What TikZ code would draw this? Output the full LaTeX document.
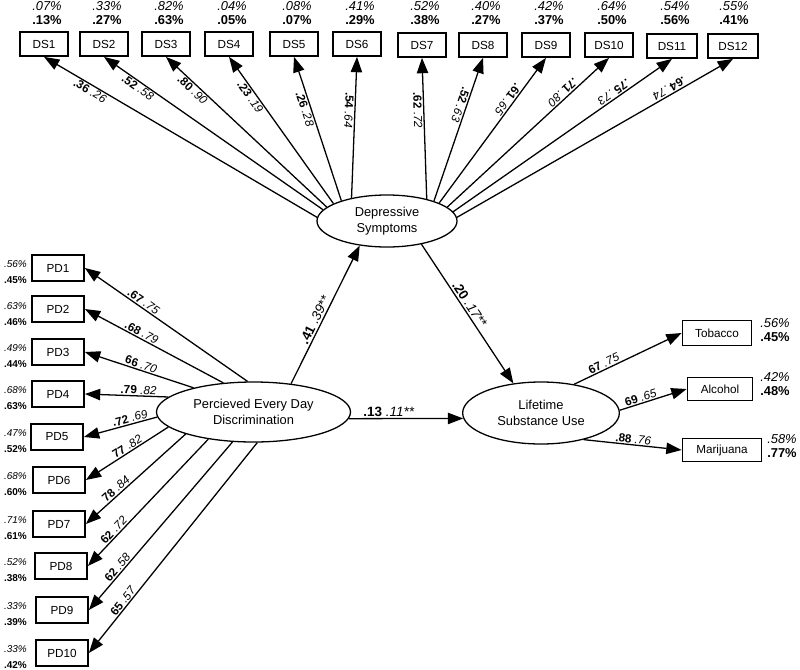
\documentclass[tikz,border=0pt]{standalone}
\usepackage{fontspec}
\setmainfont{Liberation Sans}
\usepackage{tikz}
\usetikzlibrary{arrows.meta,shapes.geometric}
\newcommand{\ldg}[2]{\textbf{#1} \textit{#2}}
\newcommand{\pct}[2]{\textit{#1\%}\\\textbf{#2\%}}
\tikzset{
  obsbox/.style  = {draw, line width=1.5pt, inner sep=0pt, minimum width=14.4mm,
                    minimum height=7.2mm, font=\fontsize{10}{12}\selectfont},
  latent/.style  = {draw, ellipse, line width=1.1pt, inner sep=0pt, align=center,
                    font=\fontsize{11}{13.5}\selectfont},
  ldar/.style    = {{Triangle[length=4.6mm,width=3.4mm]}-, line width=1.1pt},
  pathar/.style  = {-{Triangle[length=4.6mm,width=3.4mm]}, line width=1.1pt},
  ldlab/.style   = {sloped, allow upside down, inner sep=1pt, font=\fontsize{10}{12}\selectfont},
  pathlab/.style = {sloped, allow upside down, inner sep=1.5pt, font=\fontsize{11.5}{13}\selectfont},
  toppct/.style  = {align=center, inner sep=0pt, font=\fontsize{11}{12}\selectfont},
  sidepct/.style = {align=left, inner sep=0pt, font=\fontsize{11}{12.5}\selectfont},
  pdpct/.style   = {align=right, anchor=east, inner sep=0pt, font=\fontsize{8.5}{13.5}\selectfont}
}
\begin{document}
\begin{tikzpicture}[x=0.3mm,y=-0.3mm]
  \useasboundingbox (0,0) rectangle (800,669);
  % latent variables
  \node[latent, minimum width=42mm, minimum height=15.6mm] (dep) at (387,221) {Depressive\\Symptoms};
  \node[latent, minimum width=58.2mm, minimum height=18mm] (perc) at (253.5,412) {Percieved Every Day\\Discrimination};
  \node[latent, minimum width=47mm, minimum height=18.6mm] (life) at (541,413) {Lifetime\\Substance Use};

  % depressive symptom items
  \node[obsbox] (ds1)  at (44,44)  {DS1};
  \node[obsbox] (ds2)  at (104,44) {DS2};
  \node[obsbox] (ds3)  at (166,44) {DS3};
  \node[obsbox] (ds4)  at (229,44) {DS4};
  \node[obsbox] (ds5)  at (294,44) {DS5};
  \node[obsbox] (ds6)  at (357,44) {DS6};
  \node[obsbox] (ds7)  at (422,45) {DS7};
  \node[obsbox] (ds8)  at (483,45) {DS8};
  \node[obsbox] (ds9)  at (546,45) {DS9};
  \node[obsbox] (ds10) at (609,45) {DS10};
  \node[obsbox, minimum width=15mm] (ds11) at (672,46) {DS11};
  \node[obsbox, minimum width=15mm] (ds12) at (733,46) {DS12};

  \node[toppct] (p1)  at (47,13)  {\pct{.07}{.13}};
  \node[toppct] (p2)  at (107,13) {\pct{.33}{.27}};
  \node[toppct] (p3)  at (169,13) {\pct{.82}{.63}};
  \node[toppct] (p4)  at (232,13) {\pct{.04}{.05}};
  \node[toppct] (p5)  at (297,13) {\pct{.08}{.07}};
  \node[toppct] (p6)  at (360,13) {\pct{.41}{.29}};
  \node[toppct] (p7)  at (425,13) {\pct{.52}{.38}};
  \node[toppct] (p8)  at (486,13) {\pct{.40}{.27}};
  \node[toppct] (p9)  at (549,13) {\pct{.42}{.37}};
  \node[toppct] (p10) at (612,13) {\pct{.64}{.50}};
  \node[toppct] (p11) at (675,13) {\pct{.54}{.56}};
  \node[toppct] (p12) at (734,13) {\pct{.55}{.41}};

  \draw[ldar] (ds1.south)  -- (dep.177) node[ldlab,below,pos=.18]{\ldg{.36}{.26}};
  \draw[ldar] (ds2.south)  -- (dep.170) node[ldlab,below,pos=.17]{\ldg{.52}{.58}};
  \draw[ldar] (ds3.south)  -- (dep.167) node[ldlab,below,pos=.19]{\ldg{.80}{.90}};
  \draw[ldar] (ds4.south)  -- (dep.162) node[ldlab,below,pos=.25]{\ldg{.23}{.19}};
  \draw[ldar] (ds5.south)  -- (dep.156) node[ldlab,below,pos=.35]{\ldg{.26}{.28}};
  \draw[ldar] (ds6.south)  -- (dep.147) node[ldlab,below,pos=.38]{\ldg{.54}{.64}};
  \draw[ldar] (ds7.south)  -- (dep.29)  node[ldlab,below,pos=.37]{\ldg{.62}{.72}};
  \draw[ldar] (ds8.south)  -- (dep.23)  node[ldlab,below,pos=.34]{\ldg{.52}{.63}};
  \draw[ldar] (ds9.south)  -- (dep.19)  node[ldlab,below,pos=.31]{\ldg{.61}{.65}};
  \draw[ldar] (ds10.south) -- (dep.13)  node[ldlab,below,pos=.26]{\ldg{.71}{.80}};
  \draw[ldar] (ds11.south) -- (dep.8)   node[ldlab,below,pos=.25]{\ldg{.75}{.73}};
  \draw[ldar] (ds12.south) -- (dep.3)   node[ldlab,below,pos=.22]{\ldg{.64}{.74}};

  % discrimination items
  \node[obsbox, minimum width=15.6mm, minimum height=8mm] (pd1)  at (58,268) {PD1};
  \node[obsbox, minimum width=15.6mm, minimum height=8mm] (pd2)  at (58,309) {PD2};
  \node[obsbox, minimum width=15.6mm, minimum height=8mm] (pd3)  at (58,352) {PD3};
  \node[obsbox, minimum width=15.6mm, minimum height=8mm] (pd4)  at (58,394) {PD4};
  \node[obsbox, minimum width=15.6mm, minimum height=8mm] (pd5)  at (57,437) {PD5};
  \node[obsbox, minimum width=15.6mm, minimum height=8mm] (pd6)  at (59,480) {PD6};
  \node[obsbox, minimum width=15.6mm, minimum height=8mm] (pd7)  at (59,524) {PD7};
  \node[obsbox, minimum width=15.6mm, minimum height=8mm] (pd8)  at (61,566) {PD8};
  \node[obsbox, minimum width=15.6mm, minimum height=8mm] (pd9)  at (62,610) {PD9};
  \node[obsbox, minimum width=15.6mm, minimum height=8mm] (pd10) at (62,653) {PD10};

  \node[pdpct] (q1)  at (27,272) {\pct{.56}{.45}};
  \node[pdpct] (q2)  at (27,314) {\pct{.63}{.46}};
  \node[pdpct] (q3)  at (27,356) {\pct{.49}{.44}};
  \node[pdpct] (q4)  at (27,398) {\pct{.68}{.63}};
  \node[pdpct] (q5)  at (27,441) {\pct{.47}{.52}};
  \node[pdpct] (q6)  at (27,484) {\pct{.68}{.60}};
  \node[pdpct] (q7)  at (27,528) {\pct{.71}{.61}};
  \node[pdpct] (q8)  at (27,570) {\pct{.52}{.38}};
  \node[pdpct] (q9)  at (27,614) {\pct{.33}{.39}};
  \node[pdpct] (q10) at (27,657) {\pct{.33}{.42}};

  \draw[ldar] (pd1.east)  -- (perc.101) node[ldlab,above,pos=.34]{\ldg{.67}{.75}};
  \draw[ldar] (pd2.east)  -- (perc.136) node[ldlab,above,pos=.39]{\ldg{.68}{.79}};
  \draw[ldar] (pd3.east)  -- (perc.158) node[ldlab,above,pos=.5]{\ldg{66}{.70}};
  \draw[ldar] (pd4.east)  -- (perc.170) node[ldlab,above,pos=.64]{\ldg{.79}{.82}};
  \draw[ldar] (pd5.east)  -- (perc.183) node[ldlab,above,pos=.65]{\ldg{.72}{.69}};
  \draw[ldar] (pd6.east)  -- (perc.190) node[ldlab,above,pos=.54]{\ldg{77}{.82}};
  \draw[ldar] (pd7.east)  -- (perc.198) node[ldlab,above,pos=.34]{\ldg{78}{.84}};
  \draw[ldar] (pd8.east)  -- (perc.211) node[ldlab,above,pos=.25]{\ldg{62}{.72}};
  \draw[ldar] (pd9.east)  -- (perc.235) node[ldlab,above,pos=.23]{\ldg{62}{.58}};
  \draw[ldar] (pd10.east) -- (perc.277) node[ldlab,above,pos=.23]{\ldg{65}{.57}};

  % substance use items
  \node[obsbox, minimum width=20.7mm, minimum height=7.5mm] (tob) at (717,333) {Tobacco};
  \node[obsbox, minimum width=19.5mm, minimum height=6.9mm] (alc) at (720,389) {Alcohol};
  \node[obsbox, minimum width=23.7mm, minimum height=6.9mm] (mar) at (722,450) {Marijuana};

  \node[sidepct] (r1) at (775,330) {\pct{.56}{.45}};
  \node[sidepct] (r2) at (775,384) {\pct{.42}{.48}};
  \node[sidepct] (r3) at (782,446) {\pct{.58}{.77}};

  \draw[pathar] (life.41)  -- (tob.west) node[ldlab,above,pos=.3]{\ldg{67}{.75}};
  \draw[pathar] (life.2)   -- (alc.west) node[ldlab,above,pos=.34]{\ldg{69}{.65}};
  \draw[pathar] (life.328) -- (mar.west) node[ldlab,above,pos=.5]{\ldg{.88}{.76}};

  % structural paths
  \draw[pathar] (perc.37)  -- (dep.222)  node[pathlab,above,pos=.44]{\ldg{.41}{.39**}};
  \draw[pathar] (dep.326)  -- (life.133) node[pathlab,above,pos=.46]{\ldg{.20}{.17**}};
  \draw[pathar] (perc.-4)  -- (life.184) node[pathlab,above,pos=.35]{\ldg{.13}{.11**}};
\end{tikzpicture}
\end{document}
